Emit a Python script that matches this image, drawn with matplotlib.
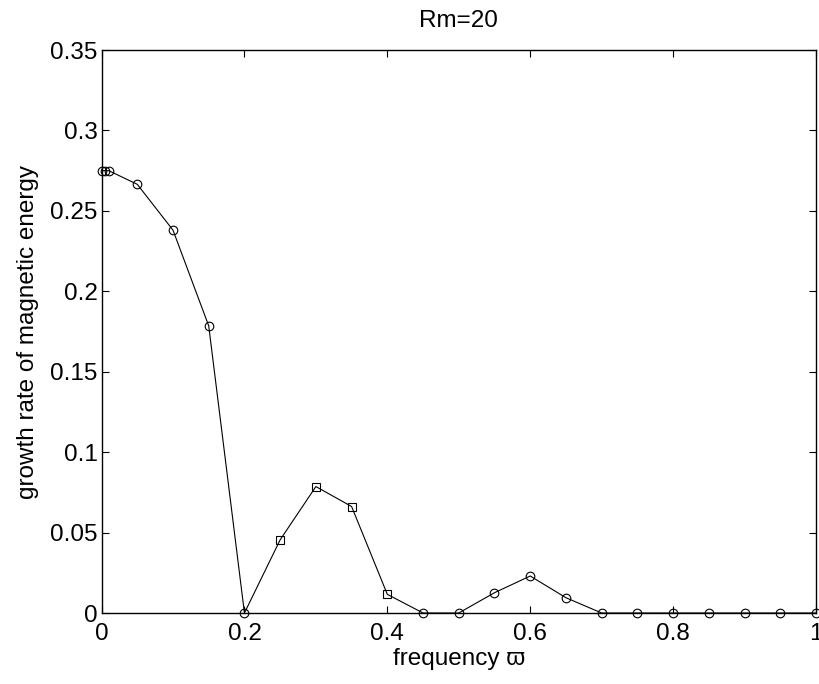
import matplotlib
matplotlib.use("Agg")
import matplotlib.pyplot as plt

plt.rcParams['font.family'] = ['Liberation Sans', 'DejaVu Sans']

freq = [0.0, 0.005, 0.01, 0.05, 0.10, 0.15, 0.20, 0.25, 0.30, 0.35, 0.40, 0.45,
        0.50, 0.55, 0.60, 0.65, 0.70, 0.75, 0.80, 0.85, 0.90, 0.95, 1.00]
growth = [0.275, 0.275, 0.275, 0.2665, 0.238, 0.1785, 0.0, 0.0455, 0.0786, 0.0662,
          0.0116, 0.0, 0.0, 0.0126, 0.023, 0.0095, 0.0, 0.0, 0.0, 0.0, 0.0, 0.0, 0.0]
marker_kind = ['o', 'o', 'o', 'o', 'o', 'o', 'o', 's', 's', 's', 's', 'o',
               'o', 'o', 'o', 'o', 'o', 'o', 'o', 'o', 'o', 'o', 'o']

xticks = [0, 0.2, 0.4, 0.6, 0.8, 1]
xticklabels = ['0', '0.2', '0.4', '0.6', '0.8', '1']
yticks = [0, 0.05, 0.1, 0.15, 0.2, 0.25, 0.3, 0.35]
yticklabels = ['0', '0.05', '0.1', '0.15', '0.2', '0.25', '0.3', '0.35']

fig = plt.figure(figsize=(8.19, 6.84), dpi=100)
ax = fig.add_axes([0.124, 0.1038, 0.8723, 0.8231])

ax.plot(freq, growth, color='black', linewidth=0.8, zorder=2)
for m in ['o', 's']:
    xs = [f for f, k in zip(freq, marker_kind) if k == m]
    ys = [g for g, k in zip(growth, marker_kind) if k == m]
    ax.plot(xs, ys, linestyle='none', marker=m,
            markersize=6.2 if m == 'o' else 5.6,
            markerfacecolor='none', markeredgecolor='black',
            markeredgewidth=0.8, zorder=3, clip_on=False)

ax.set_xlim(0, 1)
ax.set_ylim(0, 0.35)
ax.set_xticks(xticks)
ax.set_xticklabels(xticklabels)
ax.set_yticks(yticks)
ax.set_yticklabels(yticklabels)
ax.tick_params(direction='in', length=5, width=0.8, top=True, right=True,
               labelsize=17.5)
ax.tick_params(axis='x', pad=7)
ax.tick_params(axis='y', pad=3)
for s in ax.spines.values():
    s.set_linewidth(1.0)

ax.set_title('Rm=20', fontsize=17.5, pad=16.5)
ax.set_xlabel('frequency \u03d6', fontsize=17.5, labelpad=2)
ax.set_ylabel('growth rate of magnetic energy', fontsize=17.5, labelpad=8)

fig.savefig('out.png', dpi=100)
